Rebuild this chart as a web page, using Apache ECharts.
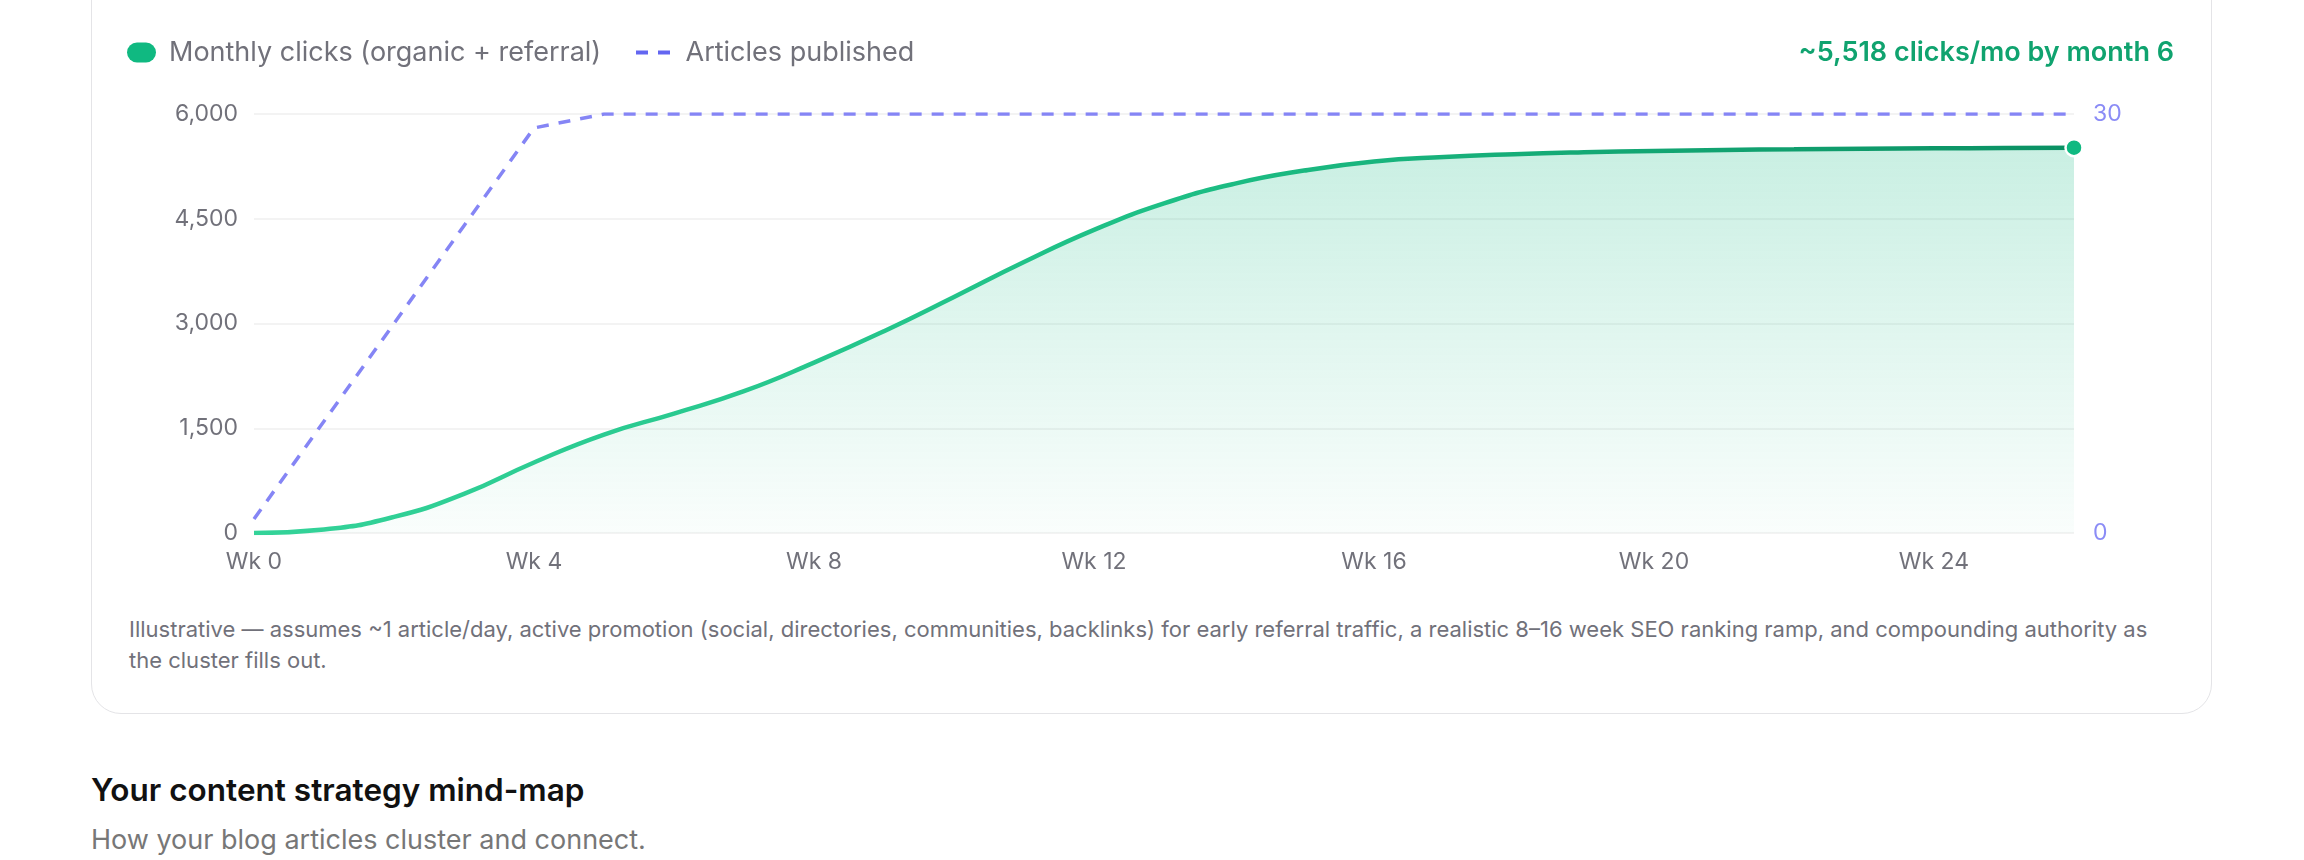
<!DOCTYPE html>
<html>
<head>
<meta charset="utf-8">
<script src="https://cdn.jsdelivr.net/npm/echarts@6/dist/echarts.min.js"></script>
<style>
  body {
    margin: 0;
    width: 2304px;
    height: 860px;
    background: #fff;
    position: relative;
    overflow: hidden;
    font-family: Inter, "Noto Sans", sans-serif;
  }
  .card {
    position: absolute;
    left: 91px;
    top: -40px;
    width: 2119px;
    height: 752px;
    border: 1.5px solid #e4e4e7;
    border-radius: 30px;
  }
  .chart {
    position: absolute;
    left: 0;
    top: 0;
    width: 2304px;
    height: 600px;
  }
  .note {
    position: absolute;
    left: 129px;
    top: 614px;
    font-size: 22px;
    line-height: 31px;
    color: #71717a;
    white-space: nowrap;
  }
  h2 {
    position: absolute;
    left: 91px;
    top: 770px;
    margin: 0;
    font-size: 31.5px;
    line-height: 40px;
    font-weight: 600;
    color: #111;
  }
  .sub {
    position: absolute;
    left: 91px;
    top: 823px;
    font-size: 27px;
    line-height: 34px;
    color: #777;
  }
</style>
</head>
<body>
  <div class="card"></div>
  <div class="chart" id="chartDom"></div>
  <div class="note">Illustrative — assumes ~1 article/day, active promotion (social, directories, communities, backlinks) for early referral traffic, a realistic 8–16 week SEO ranking ramp, and compounding authority as<br>the cluster fills out.</div>
  <h2>Your content strategy mind-map</h2>
  <div class="sub">How your blog articles cluster and connect.</div>
<script>
// 周
const weeks = ["Wk 0", "Wk 1", "Wk 2", "Wk 3", "Wk 4", "Wk 5", "Wk 6", "Wk 7", "Wk 8", "Wk 9",
  "Wk 10", "Wk 11", "Wk 12", "Wk 13", "Wk 14", "Wk 15", "Wk 16", "Wk 17", "Wk 18", "Wk 19",
  "Wk 20", "Wk 21", "Wk 22", "Wk 23", "Wk 24", "Wk 25", "Wk 26"];
// 月点击量
const clicks = [0, 50, 230, 560, 1010, 1410, 1710, 2030, 2440, 2890, 3380, 3880, 4340, 4720,
  5000, 5190, 5320, 5385, 5425, 5452, 5470, 5485, 5495, 5503, 5508, 5513, 5518];
// 已发布文章数
const articles = [1, 8, 15, 22, 29, 30, 30, 30, 30, 30, 30, 30, 30, 30,
  30, 30, 30, 30, 30, 30, 30, 30, 30, 30, 30, 30, 30];
const leftTicks = [0, 1500, 3000, 4500, 6000];
const rightTicks = [0, 30];
const headline = "~5,518 clicks/mo by month 6";

const font = "Inter";
let mychart = echarts.init(document.getElementById("chartDom"));

// 最后一个点显示圆点
let clickData = clicks.map((v, i) => {
  if (i === clicks.length - 1) {
    return {
      value: v,
      symbol: "circle",
      symbolSize: 17,
      itemStyle: { color: "#10b981", borderColor: "#fff", borderWidth: 2.5 },
    };
  }
  return v;
});

mychart.setOption({
  animation: false,
  textStyle: { fontFamily: font },
  title: {
    text: headline,
    right: 125,
    top: 34,
    textStyle: { color: "#10a36f", fontSize: 27, fontWeight: 600, fontFamily: font },
  },
  legend: [
    {
      left: 122,
      top: 34,
      data: [{ name: "Monthly clicks (organic + referral)", icon: "path://M10,0 H19 A10,10 0 0 1 19,20 H10 A10,10 0 0 1 10,0 Z" }],
      itemWidth: 29,
      itemHeight: 20,
      textStyle: { color: "#71717a", fontSize: 27, fontFamily: font, padding: [0, 0, 0, 8] },
    },
    {
      left: 631,
      top: 34,
      data: [{ name: "Articles published", icon: "path://M0,0 H12 V4 H0 Z M22,0 H34 V4 H22 Z" }],
      itemWidth: 35,
      itemHeight: 4,
      itemStyle: { color: "#6366f1" },
      textStyle: { color: "#71717a", fontSize: 27, fontFamily: font, padding: [0, 0, 0, 10] },
    },
  ],
  grid: {
    left: 254,
    top: 114,
    width: 1820,
    height: 419,
  },
  xAxis: {
    type: "category",
    boundaryGap: false,
    data: weeks,
    axisLine: { show: false },
    axisTick: { show: false },
    axisLabel: { interval: 3, color: "#71717a", fontSize: 23, margin: 18, fontFamily: font },
  },
  yAxis: [
    {
      type: "value",
      min: leftTicks[0],
      max: leftTicks[leftTicks.length - 1],
      interval: 1500,
      axisLine: { show: false },
      axisTick: { show: false },
      splitLine: { lineStyle: { color: "#efefef", width: 1.5 } },
      axisLabel: {
        color: "#71717a",
        fontSize: 23,
        margin: 16,
        fontFamily: font,
        formatter: (v) => v.toLocaleString("en-US"),
      },
    },
    {
      type: "value",
      min: rightTicks[0],
      max: rightTicks[1],
      interval: 30,
      axisLine: { show: false },
      axisTick: { show: false },
      splitLine: { show: false },
      axisLabel: { color: "#8b8cf6", fontSize: 23, margin: 19, fontFamily: font },
    },
  ],
  series: [
    {
      name: "Monthly clicks (organic + referral)",
      type: "line",
      data: clickData,
      smooth: 0.5,
      symbol: "none",
      showAllSymbol: true,
      z: 3,
      lineStyle: {
        width: 4.5,
        color: new echarts.graphic.LinearGradient(0, 0, 1, 0, [
          { offset: 0, color: "#34d399" },
          { offset: 0.5, color: "#1dbf85" },
          { offset: 1, color: "#0a9063" },
        ]),
      },
      itemStyle: { color: "#10b981" },
      areaStyle: {
        color: new echarts.graphic.LinearGradient(0, 0, 0, 1, [
          { offset: 0, color: "rgba(16,185,129,0.32)" },
          { offset: 1, color: "rgba(16,185,129,0.03)" },
        ]),
      },
    },
    {
      name: "Articles published",
      type: "line",
      yAxisIndex: 1,
      data: articles,
      symbol: "none",
      z: 2,
      lineStyle: { width: 3.5, color: "#8585f5", type: [12, 10] },
      itemStyle: { color: "#6366f1" },
    },
  ],
});
</script>
</body>
</html>
